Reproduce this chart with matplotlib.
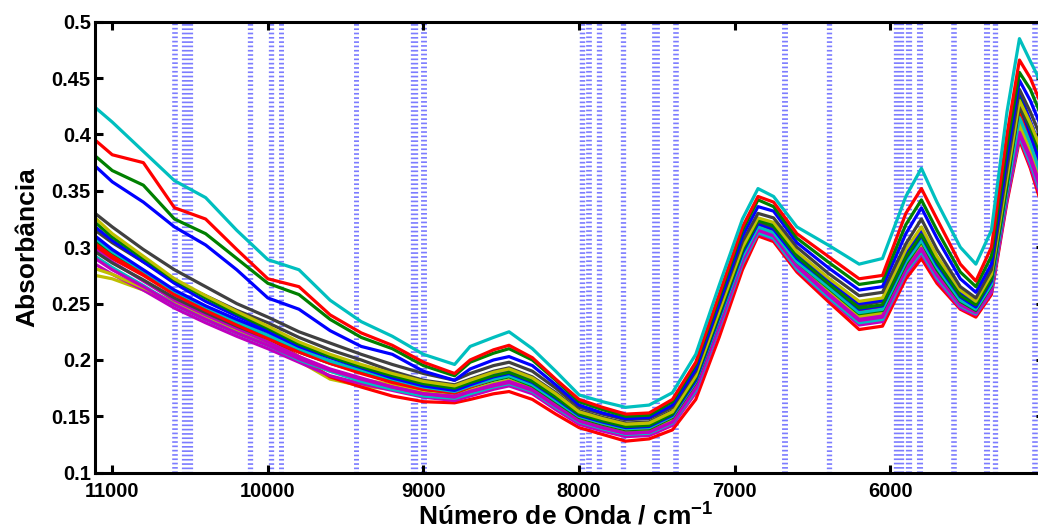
import numpy as np
import matplotlib.pyplot as plt

# wavenumber grid (cm-1) used for every spectrum
wn = [11110, 11000, 10800, 10600, 10400, 10200, 10000, 9800, 9600, 9400,
      9200, 9000, 8800, 8700, 8550, 8450, 8300, 8150, 8000, 7850,
      7700, 7550, 7400, 7250, 7100, 6950, 6850, 6750, 6600, 6400,
      6200, 6050, 5900, 5800, 5700, 5550, 5450, 5350, 5250, 5170,
      5100, 5010]

# absorbance of each sample
cyan_1 = [0.424, 0.411, 0.385, 0.359, 0.344, 0.315, 0.289, 0.280, 0.253, 0.234,
          0.221, 0.205, 0.196, 0.212, 0.220, 0.225, 0.210, 0.190, 0.169, 0.163,
          0.158, 0.160, 0.171, 0.205, 0.266, 0.325, 0.352, 0.345, 0.318, 0.302,
          0.285, 0.290, 0.345, 0.370, 0.340, 0.300, 0.285, 0.315, 0.420, 0.485,
          0.465, 0.440]
red_1 = [0.395, 0.382, 0.375, 0.335, 0.325, 0.298, 0.272, 0.265, 0.240, 0.224,
         0.213, 0.198, 0.188, 0.200, 0.209, 0.213, 0.202, 0.183, 0.165, 0.158,
         0.152, 0.153, 0.165, 0.198, 0.258, 0.318, 0.345, 0.340, 0.312, 0.292,
         0.272, 0.275, 0.330, 0.352, 0.325, 0.285, 0.270, 0.300, 0.400, 0.466,
         0.450, 0.420]
green_1 = [0.381, 0.368, 0.355, 0.325, 0.312, 0.290, 0.268, 0.258, 0.236, 0.220,
           0.210, 0.195, 0.186, 0.198, 0.206, 0.210, 0.200, 0.182, 0.163, 0.156,
           0.150, 0.151, 0.163, 0.196, 0.255, 0.315, 0.342, 0.336, 0.308, 0.287,
           0.267, 0.270, 0.320, 0.342, 0.315, 0.278, 0.265, 0.292, 0.390, 0.455,
           0.440, 0.410]
blue_1 = [0.372, 0.358, 0.340, 0.318, 0.302, 0.280, 0.255, 0.245, 0.226, 0.212,
          0.205, 0.190, 0.182, 0.192, 0.200, 0.203, 0.195, 0.178, 0.160, 0.153,
          0.148, 0.149, 0.160, 0.192, 0.250, 0.310, 0.336, 0.332, 0.304, 0.282,
          0.262, 0.265, 0.312, 0.335, 0.308, 0.272, 0.260, 0.285, 0.380, 0.448,
          0.430, 0.400]
gray_1 = [0.330, 0.318, 0.298, 0.280, 0.265, 0.250, 0.238, 0.225, 0.215, 0.205,
          0.196, 0.188, 0.182, 0.188, 0.195, 0.198, 0.190, 0.175, 0.158, 0.152,
          0.147, 0.148, 0.158, 0.190, 0.248, 0.305, 0.330, 0.326, 0.300, 0.277,
          0.257, 0.260, 0.303, 0.325, 0.298, 0.265, 0.255, 0.280, 0.370, 0.440,
          0.420, 0.390]
yellow_1 = [0.326, 0.312, 0.292, 0.272, 0.257, 0.243, 0.230, 0.216, 0.205, 0.196,
            0.188, 0.181, 0.177, 0.182, 0.189, 0.192, 0.184, 0.170, 0.154, 0.148,
            0.143, 0.144, 0.154, 0.186, 0.243, 0.300, 0.326, 0.322, 0.296, 0.273,
            0.252, 0.255, 0.298, 0.318, 0.292, 0.262, 0.252, 0.276, 0.362, 0.430,
            0.410, 0.380]
green_3 = [0.322, 0.309, 0.290, 0.271, 0.255, 0.241, 0.228, 0.214, 0.203, 0.194,
           0.186, 0.179, 0.175, 0.180, 0.186, 0.189, 0.181, 0.167, 0.152, 0.146,
           0.141, 0.142, 0.152, 0.184, 0.240, 0.297, 0.324, 0.319, 0.292, 0.268,
           0.246, 0.249, 0.291, 0.311, 0.287, 0.257, 0.249, 0.272, 0.356, 0.432,
           0.408, 0.372]
blue_3 = [0.318, 0.306, 0.287, 0.268, 0.252, 0.239, 0.227, 0.214, 0.204, 0.195,
          0.187, 0.180, 0.176, 0.181, 0.187, 0.190, 0.182, 0.168, 0.153, 0.147,
          0.142, 0.143, 0.153, 0.185, 0.241, 0.298, 0.325, 0.320, 0.294, 0.271,
          0.250, 0.253, 0.295, 0.316, 0.290, 0.259, 0.250, 0.274, 0.360, 0.437,
          0.412, 0.378]
gray_2 = [0.315, 0.304, 0.287, 0.270, 0.257, 0.244, 0.233, 0.220, 0.209, 0.200,
          0.190, 0.182, 0.178, 0.183, 0.190, 0.193, 0.185, 0.171, 0.155, 0.149,
          0.144, 0.145, 0.155, 0.186, 0.242, 0.298, 0.323, 0.318, 0.293, 0.270,
          0.248, 0.252, 0.293, 0.313, 0.288, 0.258, 0.249, 0.272, 0.358, 0.425,
          0.405, 0.375]
blue_2 = [0.310, 0.298, 0.280, 0.262, 0.248, 0.236, 0.225, 0.212, 0.202, 0.193,
          0.184, 0.177, 0.173, 0.178, 0.185, 0.188, 0.180, 0.166, 0.151, 0.145,
          0.140, 0.141, 0.151, 0.182, 0.238, 0.295, 0.321, 0.316, 0.290, 0.268,
          0.245, 0.248, 0.290, 0.310, 0.285, 0.256, 0.247, 0.270, 0.355, 0.428,
          0.400, 0.365]
cyan_3 = [0.308, 0.296, 0.279, 0.261, 0.247, 0.234, 0.222, 0.210, 0.199, 0.191,
          0.183, 0.176, 0.172, 0.177, 0.183, 0.186, 0.178, 0.164, 0.150, 0.144,
          0.139, 0.140, 0.150, 0.181, 0.236, 0.292, 0.318, 0.313, 0.287, 0.265,
          0.242, 0.245, 0.287, 0.306, 0.282, 0.253, 0.245, 0.267, 0.350, 0.415,
          0.392, 0.355]
red_2 = [0.303, 0.292, 0.276, 0.258, 0.244, 0.231, 0.219, 0.207, 0.197, 0.188,
         0.180, 0.174, 0.171, 0.176, 0.183, 0.187, 0.179, 0.165, 0.150, 0.144,
         0.139, 0.140, 0.150, 0.181, 0.237, 0.294, 0.320, 0.315, 0.289, 0.266,
         0.244, 0.247, 0.288, 0.307, 0.283, 0.254, 0.246, 0.268, 0.352, 0.418,
         0.395, 0.358]
green_2 = [0.305, 0.294, 0.277, 0.260, 0.246, 0.233, 0.222, 0.209, 0.198, 0.189,
           0.181, 0.174, 0.171, 0.176, 0.182, 0.185, 0.177, 0.163, 0.149, 0.143,
           0.138, 0.139, 0.149, 0.180, 0.236, 0.293, 0.319, 0.314, 0.287, 0.264,
           0.241, 0.244, 0.285, 0.305, 0.280, 0.252, 0.244, 0.266, 0.350, 0.420,
           0.395, 0.360]
gray_3 = [0.296, 0.286, 0.271, 0.255, 0.242, 0.230, 0.219, 0.207, 0.197, 0.189,
          0.182, 0.176, 0.173, 0.178, 0.184, 0.188, 0.180, 0.166, 0.151, 0.145,
          0.140, 0.141, 0.151, 0.182, 0.238, 0.295, 0.321, 0.316, 0.290, 0.267,
          0.245, 0.248, 0.290, 0.309, 0.284, 0.255, 0.247, 0.270, 0.355, 0.422,
          0.398, 0.362]
magenta_1 = [0.298, 0.287, 0.270, 0.253, 0.240, 0.228, 0.216, 0.203, 0.192, 0.184,
             0.176, 0.170, 0.167, 0.172, 0.178, 0.181, 0.174, 0.160, 0.146, 0.140,
             0.135, 0.136, 0.145, 0.175, 0.231, 0.288, 0.315, 0.310, 0.283, 0.258,
             0.235, 0.238, 0.280, 0.298, 0.275, 0.249, 0.242, 0.262, 0.345, 0.402,
             0.380, 0.345]
magenta_3 = [0.290, 0.280, 0.265, 0.249, 0.236, 0.224, 0.213, 0.201, 0.191, 0.183,
             0.176, 0.170, 0.168, 0.172, 0.177, 0.180, 0.173, 0.159, 0.146, 0.140,
             0.135, 0.136, 0.145, 0.175, 0.231, 0.289, 0.316, 0.311, 0.284, 0.259,
             0.236, 0.239, 0.281, 0.299, 0.276, 0.250, 0.243, 0.264, 0.347, 0.400,
             0.378, 0.342]
cyan_2 = [0.292, 0.282, 0.266, 0.249, 0.236, 0.224, 0.213, 0.200, 0.190, 0.181,
          0.174, 0.168, 0.166, 0.170, 0.176, 0.179, 0.172, 0.158, 0.145, 0.139,
          0.134, 0.135, 0.144, 0.173, 0.229, 0.286, 0.313, 0.308, 0.281, 0.256,
          0.233, 0.236, 0.278, 0.296, 0.273, 0.248, 0.241, 0.262, 0.345, 0.398,
          0.375, 0.340]
magenta_2 = [0.285, 0.276, 0.262, 0.246, 0.233, 0.221, 0.210, 0.198, 0.186, 0.179,
             0.173, 0.167, 0.164, 0.168, 0.174, 0.177, 0.170, 0.156, 0.143, 0.137,
             0.132, 0.133, 0.142, 0.171, 0.227, 0.285, 0.312, 0.307, 0.280, 0.255,
             0.231, 0.234, 0.276, 0.294, 0.271, 0.246, 0.240, 0.260, 0.342, 0.398,
             0.372, 0.335]
yellow_3 = [0.281, 0.276, 0.264, 0.251, 0.238, 0.226, 0.215, 0.203, 0.190, 0.183,
            0.178, 0.172, 0.169, 0.173, 0.179, 0.182, 0.175, 0.162, 0.149, 0.143,
            0.138, 0.139, 0.148, 0.178, 0.234, 0.291, 0.318, 0.313, 0.286, 0.261,
            0.238, 0.241, 0.283, 0.302, 0.279, 0.252, 0.244, 0.265, 0.348, 0.405,
            0.382, 0.345]
yellow_2 = [0.275, 0.272, 0.262, 0.250, 0.236, 0.224, 0.213, 0.199, 0.183, 0.177,
            0.174, 0.170, 0.167, 0.170, 0.176, 0.180, 0.173, 0.160, 0.147, 0.141,
            0.136, 0.137, 0.146, 0.175, 0.232, 0.290, 0.318, 0.313, 0.287, 0.262,
            0.240, 0.243, 0.285, 0.305, 0.282, 0.255, 0.247, 0.268, 0.352, 0.410,
            0.385, 0.350]
red_3 = [0.300, 0.290, 0.275, 0.258, 0.245, 0.232, 0.220, 0.203, 0.185, 0.176,
         0.168, 0.163, 0.162, 0.165, 0.170, 0.172, 0.165, 0.152, 0.140, 0.134,
         0.128, 0.130, 0.138, 0.165, 0.220, 0.280, 0.310, 0.305, 0.278, 0.252,
         0.227, 0.230, 0.272, 0.290, 0.268, 0.245, 0.238, 0.258, 0.340, 0.395,
         0.370, 0.330]

# selected wavenumber intervals (start, end) shown as dashed lines
sel_start = [10612, 10558, 10132, 9997, 9929, 9451, 9087, 9014, 7999, 7954,
             7891, 7735, 7532, 7398, 6694, 6409, 5976, 5899, 5827, 5609,
             5396, 5346, 5091]
sel_end = [10576, 10486, 10098, 9963, 9897, 9419, 9040, 8976, 7964, 7917,
           7857, 7701, 7482, 7362, 6656, 6375, 5910, 5859, 5788, 5573,
           5357, 5312, 5055]

x_ticks = [11000, 10000, 9000, 8000, 7000, 6000]
y_ticks = [0.1, 0.15, 0.2, 0.25, 0.3, 0.35, 0.4, 0.45, 0.5]
y_labels = ['0.1', '0.15', '0.2', '0.25', '0.3', '0.35', '0.4', '0.45', '0.5']

# old matlab colour order
mb = (0, 0, 1)
mg = (0, 0.5, 0)
mr = (1, 0, 0)
mc = (0, 0.75, 0.75)
mm = (0.75, 0, 0.75)
my = (0.75, 0.75, 0)
mk = (0.25, 0.25, 0.25)

series = [(yellow_2, my), (red_3, mr), (magenta_2, mm), (yellow_3, my),
          (cyan_2, mc), (magenta_3, mm), (magenta_1, mm), (gray_3, mk),
          (green_2, mg), (red_2, mr), (cyan_3, mc), (blue_2, mb),
          (gray_2, mk), (blue_3, mb), (green_3, mg), (yellow_1, my),
          (gray_1, mk),
          (blue_1, mb), (green_1, mg), (red_1, mr), (cyan_1, mc)]

plt.rcParams['font.family'] = ['Liberation Sans', 'DejaVu Sans']
plt.rcParams['font.weight'] = 'bold'
plt.rcParams['mathtext.fontset'] = 'custom'
plt.rcParams['mathtext.rm'] = 'Liberation Sans:bold'
plt.rcParams['mathtext.bf'] = 'Liberation Sans:bold'
plt.rcParams['lines.scale_dashes'] = False

fig = plt.figure(figsize=(10.38, 5.27), dpi=100)
ax = fig.add_axes([0.0915, 0.1030, 0.9143, 0.8558])
ax.set_xlim(11111, 5012)
ax.set_ylim(0.1, 0.5)

# dashed bands: line width follows the interval width on screen
for s, e in zip(sel_start, sel_end):
    px = abs(ax.transData.transform((s, 0))[0] - ax.transData.transform((e, 0))[0])
    ax.axvline((s + e) / 2, color='#5050ff', lw=px * 72 / fig.dpi,
               dashes=(1.2, 1.9), alpha=0.75, zorder=1)

for vals, col in series:
    ax.plot(wn, vals, color=col, lw=2.3, zorder=2)

ax.set_xticks(x_ticks)
ax.set_xticklabels([str(t) for t in x_ticks])
ax.set_yticks(y_ticks)
ax.set_yticklabels(y_labels)
ax.tick_params(direction='in', length=6, width=2.2, labelsize=14.5,
               top=True, right=True)
ax.tick_params(axis='x', pad=7)
ax.tick_params(axis='y', pad=3)
for sp in ax.spines.values():
    sp.set_linewidth(2.2)

fig.text(566 / 1038, 3 / 527, r'Número de Onda / cm$^{\mathbf{-1}}$',
         ha='center', va='baseline', fontsize=19, fontweight='bold')
fig.text(27 / 1038, 1 - 247 / 527, 'Absorbância', rotation=90,
         ha='center', va='center', fontsize=19, fontweight='bold')

fig.savefig('out.png', dpi=100)
